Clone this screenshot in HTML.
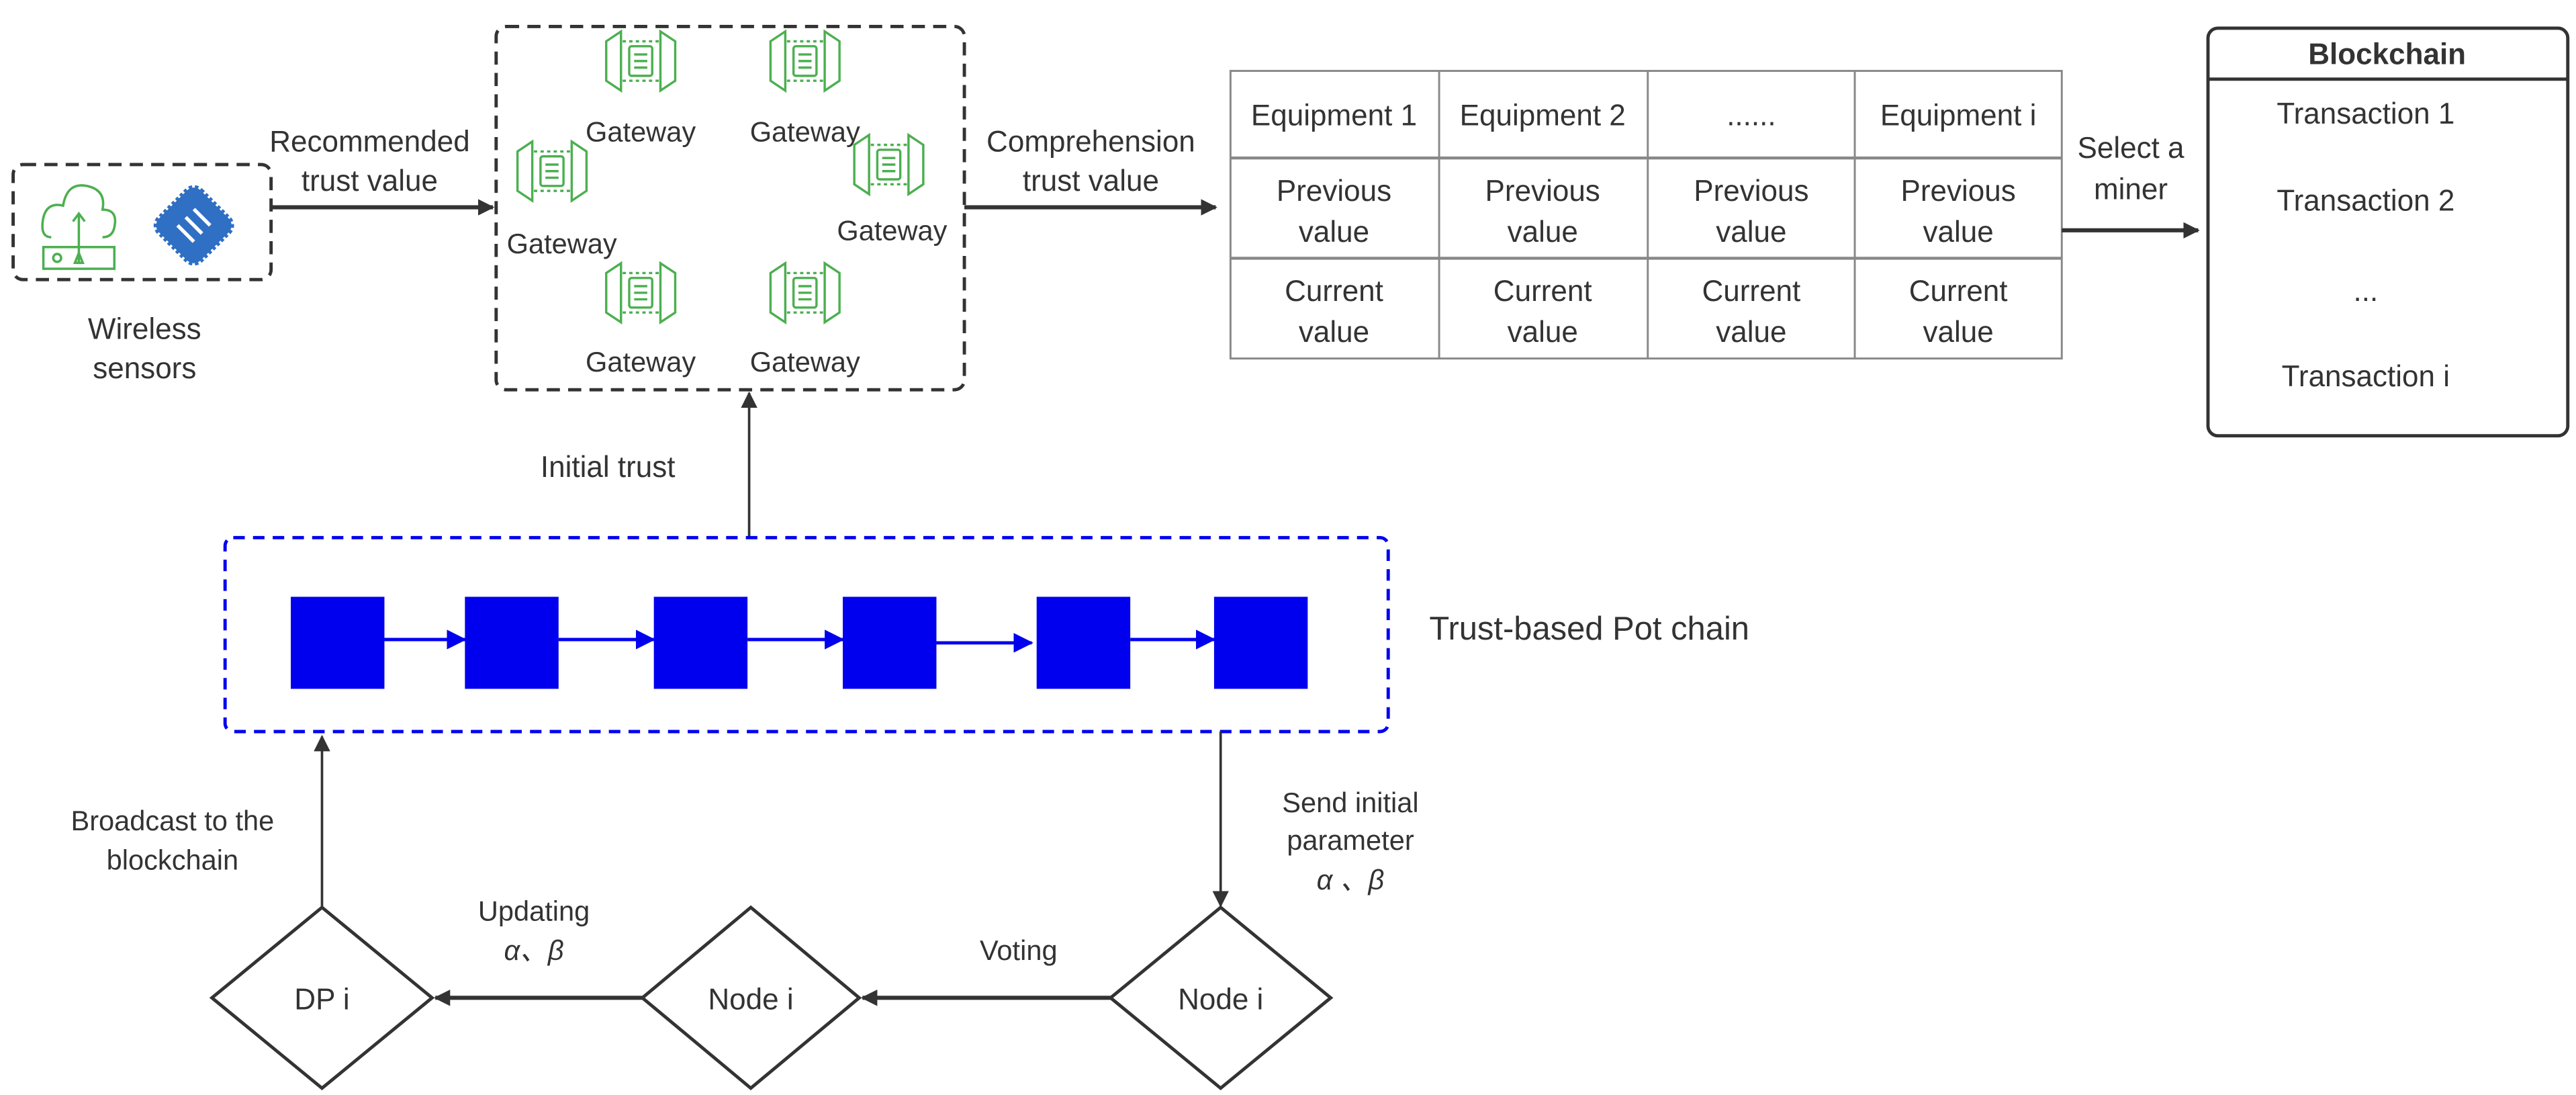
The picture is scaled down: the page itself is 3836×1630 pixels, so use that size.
<!DOCTYPE html>
<html><head><meta charset="utf-8"><style>
html,body{margin:0;padding:0;background:#fff;}
svg{display:block;}
text{font-family:"Liberation Sans",sans-serif;fill:#333;}
</style></head><body>
<svg width="3836" height="1630" viewBox="0 0 1568 666" xmlns="http://www.w3.org/2000/svg">
<defs>
<marker id="ah" markerWidth="10" markerHeight="10" refX="9" refY="5" orient="auto" markerUnits="userSpaceOnUse"><path d="M0,0 L10,5 L0,10 z" fill="#333"/></marker>
<marker id="ahb" markerWidth="12" markerHeight="12" refX="11" refY="6" orient="auto" markerUnits="userSpaceOnUse"><path d="M0,0 L12,6 L0,12 z" fill="#0000ee"/></marker>
<g id="gw" fill="none" stroke="#4caf50" stroke-width="1.4">
<polygon points="-21,-12 -12,-18 -12,18 -21,12"/>
<polygon points="21,-12 12,-18 12,18 21,12"/>
<line x1="-11" y1="-12" x2="11" y2="-12" stroke-dasharray="2,2"/>
<line x1="-11" y1="12" x2="11" y2="12" stroke-dasharray="2,2"/>
<rect x="-7" y="-9" width="14" height="18" rx="1.5"/>
<line x1="-4" y1="-4" x2="4" y2="-4"/><line x1="-4" y1="0" x2="4" y2="0"/><line x1="-4" y1="4" x2="4" y2="4"/>
</g>
</defs>

<!-- sensors box -->
<rect x="8" y="100" width="157" height="70" rx="6" fill="none" stroke="#333" stroke-width="2" stroke-dasharray="8,5"/>
<g fill="none" stroke="#4caf50" stroke-width="1.2" transform="translate(48,137) scale(1.2) translate(-38,-144)">
<path d="M24,150 Q18,150 20,140 Q22,132 30,134 Q32,122 42,124 Q52,126 50,136 Q58,136 56,145 Q55,150 50,150"/>
<line x1="38" y1="163" x2="38" y2="138"/><path d="M35,142 L38,138 L41,142"/>
<rect x="20" y="155" width="36" height="11"/>
<circle cx="27" cy="160.5" r="2"/><path d="M36,163 L38,158 L40,163 z"/>
</g>
<g transform="translate(118,137) rotate(45)">
<rect x="-18" y="-18" width="36" height="36" rx="6" fill="#2f6fc4" stroke="#2f6fc4" stroke-width="3" stroke-dasharray="2,1.5"/>
<path d="M-7,-7 L7,-7 M-7,0 L7,0 M-7,7 L7,7" stroke="#fff" stroke-width="2.2"/>
</g>
<text x="88" y="206" font-size="18" text-anchor="middle">Wireless</text>
<text x="88" y="230" font-size="18" text-anchor="middle">sensors</text>

<!-- arrow recommended -->
<line x1="165" y1="126" x2="300" y2="126" stroke="#333" stroke-width="2.5" marker-end="url(#ah)"/>
<text x="225" y="92" font-size="18" text-anchor="middle">Recommended</text>
<text x="225" y="116" font-size="18" text-anchor="middle">trust value</text>

<!-- gateway box -->
<rect x="302" y="16" width="285" height="221" rx="6" fill="none" stroke="#333" stroke-width="2" stroke-dasharray="8,5"/>
<use href="#gw" x="390" y="37"/><use href="#gw" x="490" y="37"/>
<use href="#gw" x="336" y="104"/><use href="#gw" x="541" y="100"/>
<use href="#gw" x="390" y="178"/><use href="#gw" x="490" y="178"/>
<g font-size="17" text-anchor="middle">
<text x="390" y="86">Gateway</text><text x="490" y="86">Gateway</text>
<text x="342" y="154">Gateway</text><text x="543" y="146">Gateway</text>
<text x="390" y="226">Gateway</text><text x="490" y="226">Gateway</text>
</g>

<!-- comprehension arrow -->
<line x1="587" y1="126" x2="740" y2="126" stroke="#333" stroke-width="2.5" marker-end="url(#ah)"/>
<text x="664" y="92" font-size="18" text-anchor="middle">Comprehension</text>
<text x="664" y="116" font-size="18" text-anchor="middle">trust value</text>

<!-- table -->
<g stroke="#888" stroke-width="1.2" fill="none">
<rect x="749" y="43" width="506" height="175"/>
<line x1="749" y1="96" x2="1255" y2="96" stroke-width="1.8"/>
<line x1="749" y1="157" x2="1255" y2="157" stroke-width="1.8"/>
<line x1="876" y1="43" x2="876" y2="218"/><line x1="1003" y1="43" x2="1003" y2="218"/><line x1="1129" y1="43" x2="1129" y2="218"/>
</g>
<g font-size="18" text-anchor="middle">
<text x="812" y="76">Equipment 1</text><text x="939" y="76">Equipment 2</text><text x="1066" y="76">......</text><text x="1192" y="76">Equipment i</text>
<text x="812" y="122">Previous</text><text x="939" y="122">Previous</text><text x="1066" y="122">Previous</text><text x="1192" y="122">Previous</text>
<text x="812" y="147">value</text><text x="939" y="147">value</text><text x="1066" y="147">value</text><text x="1192" y="147">value</text>
<text x="812" y="183">Current</text><text x="939" y="183">Current</text><text x="1066" y="183">Current</text><text x="1192" y="183">Current</text>
<text x="812" y="208">value</text><text x="939" y="208">value</text><text x="1066" y="208">value</text><text x="1192" y="208">value</text>
</g>

<!-- select miner -->
<line x1="1255" y1="140" x2="1338" y2="140" stroke="#333" stroke-width="2.5" marker-end="url(#ah)"/>
<text x="1297" y="96" font-size="18" text-anchor="middle">Select a</text>
<text x="1297" y="121" font-size="18" text-anchor="middle">miner</text>

<!-- blockchain -->
<rect x="1344" y="17" width="219" height="248" rx="6" fill="none" stroke="#333" stroke-width="2"/>
<line x1="1344" y1="48" x2="1563" y2="48" stroke="#333" stroke-width="2"/>
<text x="1453" y="39" font-size="18" font-weight="bold" text-anchor="middle">Blockchain</text>
<g font-size="18" text-anchor="middle">
<text x="1440" y="75">Transaction 1</text><text x="1440" y="128">Transaction 2</text>
<text x="1440" y="183">...</text><text x="1440" y="235">Transaction i</text>
</g>

<!-- initial trust -->
<line x1="456" y1="327" x2="456" y2="239" stroke="#333" stroke-width="1.5" marker-end="url(#ah)"/>
<text x="370" y="290" font-size="18" text-anchor="middle">Initial trust</text>

<!-- blue box -->
<rect x="137" y="327" width="708" height="118" rx="5" fill="none" stroke="#0000ee" stroke-width="2" stroke-dasharray="7,5"/>
<g fill="#0000ee">
<rect x="177" y="363" width="57" height="56"/><rect x="283" y="363" width="57" height="56"/>
<rect x="398" y="363" width="57" height="56"/><rect x="513" y="363" width="57" height="56"/>
<rect x="631" y="363" width="57" height="56"/><rect x="739" y="363" width="57" height="56"/>
</g>
<g stroke="#0000ee" stroke-width="2">
<line x1="234" y1="389" x2="283" y2="389" marker-end="url(#ahb)"/>
<line x1="340" y1="389" x2="398" y2="389" marker-end="url(#ahb)"/>
<line x1="455" y1="389" x2="513" y2="389" marker-end="url(#ahb)"/>
<line x1="570" y1="391" x2="628" y2="391" marker-end="url(#ahb)"/>
<line x1="688" y1="389" x2="739" y2="389" marker-end="url(#ahb)"/>
</g>
<text x="870" y="389" font-size="20">Trust-based Pot chain</text>

<!-- broadcast -->
<line x1="196" y1="552" x2="196" y2="448" stroke="#333" stroke-width="1.5" marker-end="url(#ah)"/>
<text x="105" y="505" font-size="17" text-anchor="middle">Broadcast to the</text>
<text x="105" y="529" font-size="17" text-anchor="middle">blockchain</text>

<!-- send initial -->
<line x1="743" y1="445" x2="743" y2="551" stroke="#333" stroke-width="1.5" marker-end="url(#ah)"/>
<text x="822" y="494" font-size="17" text-anchor="middle">Send initial</text>
<text x="822" y="517" font-size="17" text-anchor="middle">parameter</text>
<text x="822" y="541" font-size="17" text-anchor="middle" font-style="italic">α 、β</text>

<!-- diamonds -->
<g fill="#fff" stroke="#333" stroke-width="2">
<polygon points="196,552 263,607 196,662 129,607"/>
<polygon points="457,552 523,607 457,662 391,607"/>
<polygon points="743,552 810,607 743,662 676,607"/>
</g>
<g font-size="18" text-anchor="middle">
<text x="196" y="614">DP i</text><text x="457" y="614">Node i</text><text x="743" y="614">Node i</text>
</g>
<line x1="676" y1="607" x2="525" y2="607" stroke="#333" stroke-width="2.5" marker-end="url(#ah)"/>
<line x1="391" y1="607" x2="265" y2="607" stroke="#333" stroke-width="2.5" marker-end="url(#ah)"/>
<text x="620" y="584" font-size="17" text-anchor="middle">Voting</text>
<text x="325" y="560" font-size="17" text-anchor="middle">Updating</text>
<text x="325" y="584" font-size="17" text-anchor="middle" font-style="italic">α、β</text>
</svg>
</body></html>
